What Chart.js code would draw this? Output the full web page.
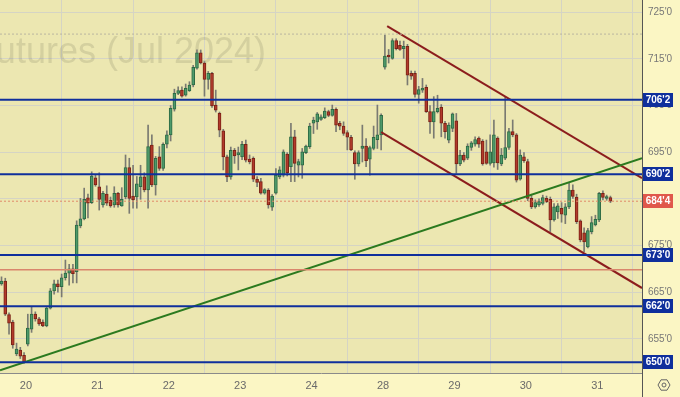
<!DOCTYPE html>
<html>
<head>
<meta charset="utf-8">
<script src="https://cdn.jsdelivr.net/npm/chart.js@4.4.1/dist/chart.umd.min.js"></script>
<style>
    html, body { margin: 0; padding: 0; background: #fbf6c4; }
    #wrap { width: 680px; height: 397px; }
</style>
</head>
<body>
<div id="wrap"><canvas id="chart" width="680" height="397"></canvas></div>
<script>
// hourly candles, Jul 2024 futures, 19 bars per session
const opens = [
    666.8, 667.4, 660.2, 658.6, 651.8, 652.6, 651.5, 653.9, 657.1, 660.3,
    659.3, 658.6, 657.8, 661.6, 665.3, 666.8, 666.2, 668.1, 669.1, 670.0,
    669.4, 679.2, 680.7, 685.2, 684.2, 689.5, 687.6, 683.7, 686.0, 684.7,
    683.7, 686.2, 683.5, 685.4, 691.7, 685.6, 685.4, 687.6, 689.7, 686.9,
    696.5, 688.0, 694.0, 691.5, 696.7, 698.7, 704.2, 707.6, 708.3, 707.2,
    708.2, 709.4, 713.0, 716.3, 714.1, 710.6, 711.9, 705.1, 703.3, 699.6,
    694.0, 689.7, 695.4, 694.4, 694.0, 696.7, 693.5, 693.7, 689.2, 688.7,
    686.2, 686.9, 683.2, 686.2, 689.7, 690.1, 694.6, 691.9, 698.3, 692.2,
    692.2, 694.9, 696.2, 701.2, 701.5, 702.0, 702.4, 703.7, 702.9, 704.2,
    701.2, 700.6, 699.2, 698.2, 694.9, 692.5, 695.8, 696.3, 693.5, 695.8,
    697.7, 698.7, 713.2, 715.8, 715.1, 718.9, 717.9, 717.2, 717.7, 711.9,
    711.9, 707.4, 708.3, 708.9, 703.7, 701.5, 703.7, 704.6, 701.2, 697.6,
    700.1, 701.7, 692.5, 694.4, 693.7, 696.0, 696.7, 698.0, 697.4, 695.1,
    692.6, 692.7, 698.0, 692.5, 693.7, 696.0, 699.4, 698.7, 689.2, 694.0,
    693.0, 685.1, 683.3, 683.7, 684.0, 685.1, 684.9, 680.5, 682.2, 683.0,
    681.5, 683.3, 686.9, 685.4, 680.3, 677.7, 674.7, 677.9, 679.4, 680.5,
    686.2, 685.1, 685.3
];
const highs = [
    668.3, 668.0, 660.6, 659.0, 654.1, 653.2, 652.1, 660.3, 661.9, 660.8,
    659.6, 659.1, 662.0, 665.8, 667.6, 667.6, 668.9, 671.9, 671.0, 671.0,
    680.3, 685.1, 687.3, 686.0, 690.8, 690.2, 690.6, 686.6, 687.8, 685.4,
    687.6, 686.4, 687.4, 694.4, 693.7, 692.2, 689.8, 692.2, 690.6, 700.8,
    698.7, 694.1, 696.2, 697.0, 699.6, 705.0, 708.5, 709.0, 709.0, 709.6,
    710.1, 713.6, 716.9, 716.9, 714.4, 712.3, 712.1, 708.3, 703.6, 699.9,
    694.4, 696.1, 695.8, 696.1, 697.3, 697.6, 694.4, 694.0, 689.8, 689.4,
    687.2, 687.2, 685.9, 691.5, 691.9, 695.5, 694.9, 701.2, 699.7, 693.5,
    695.8, 696.5, 701.2, 702.5, 703.5, 703.0, 704.5, 704.0, 705.1, 704.5,
    701.6, 701.5, 699.6, 698.6, 695.3, 695.3, 700.8, 697.9, 696.3, 700.6,
    705.1, 703.2, 720.1, 717.0, 719.3, 719.3, 718.8, 718.8, 718.1, 712.4,
    712.4, 709.1, 710.8, 709.4, 705.0, 706.9, 707.2, 705.2, 701.6, 701.3,
    703.4, 703.3, 695.4, 694.9, 696.8, 697.3, 698.3, 698.3, 697.7, 697.6,
    698.7, 701.9, 698.3, 695.8, 706.9, 700.1, 701.9, 699.0, 695.5, 694.9,
    693.5, 686.0, 684.8, 685.0, 685.8, 685.6, 685.4, 684.0, 684.0, 684.2,
    684.0, 688.5, 688.0, 686.0, 680.5, 678.8, 678.7, 681.2, 681.5, 686.4,
    686.7, 685.8, 685.6
];
const lows = [
    666.5, 660.0, 656.0, 653.0, 651.4, 650.8, 649.8, 653.5, 656.4, 658.8,
    657.9, 657.6, 657.6, 661.4, 664.6, 665.0, 664.0, 667.6, 666.5, 667.0,
    667.0, 678.8, 680.5, 680.9, 684.0, 687.7, 682.6, 683.2, 683.6, 683.2,
    683.2, 683.2, 683.4, 685.0, 681.9, 683.0, 683.0, 684.9, 686.5, 683.0,
    687.6, 685.8, 691.1, 691.1, 695.9, 697.4, 703.8, 707.3, 706.8, 707.0,
    708.0, 709.0, 712.8, 713.9, 707.0, 708.5, 704.6, 703.6, 698.3, 691.2,
    688.7, 689.2, 692.6, 691.2, 693.4, 692.9, 692.5, 688.7, 687.6, 686.0,
    686.0, 683.0, 682.5, 686.0, 689.3, 689.7, 689.9, 688.7, 688.7, 689.7,
    689.4, 694.7, 695.8, 699.0, 699.9, 701.8, 702.2, 702.6, 702.7, 699.4,
    699.8, 698.6, 695.5, 695.3, 689.2, 692.0, 692.9, 691.9, 690.1, 695.5,
    695.8, 695.5, 712.8, 714.1, 714.9, 716.9, 716.8, 715.1, 709.4, 710.6,
    706.8, 705.5, 707.8, 703.5, 699.0, 698.0, 703.4, 698.3, 698.0, 697.0,
    699.4, 690.5, 692.1, 692.9, 693.4, 695.4, 696.3, 696.0, 692.2, 692.4,
    692.2, 691.8, 691.3, 692.1, 693.4, 695.6, 698.3, 688.6, 689.0, 692.8,
    684.6, 682.9, 683.0, 683.4, 683.7, 684.2, 678.0, 680.2, 680.8, 680.0,
    679.7, 682.9, 685.1, 679.7, 675.8, 673.7, 674.5, 677.5, 679.2, 680.1,
    684.8, 684.7, 684.2
];
const closes = [
    667.4, 660.3, 658.4, 653.7, 652.8, 651.3, 650.0, 657.3, 660.3, 659.3,
    658.2, 657.8, 661.6, 665.3, 666.8, 666.2, 668.1, 669.1, 670.0, 669.0,
    679.4, 680.7, 684.9, 684.1, 689.9, 688.0, 684.9, 686.2, 684.1, 683.5,
    686.2, 683.7, 684.9, 691.7, 685.1, 684.8, 688.2, 689.7, 686.9, 696.2,
    688.0, 693.7, 691.5, 696.7, 698.7, 704.4, 707.6, 708.2, 707.0, 708.7,
    709.4, 713.2, 716.3, 714.1, 710.6, 711.9, 704.9, 704.0, 699.7, 694.0,
    689.7, 695.4, 694.2, 694.9, 696.7, 693.3, 692.9, 689.2, 688.5, 686.2,
    687.0, 683.7, 685.6, 690.1, 691.2, 695.1, 690.6, 698.3, 692.6, 693.0,
    695.1, 696.3, 700.6, 701.9, 703.2, 702.6, 703.8, 702.9, 704.2, 700.8,
    700.6, 699.0, 698.2, 695.5, 692.5, 694.9, 696.3, 693.2, 696.0, 698.2,
    698.7, 702.9, 715.6, 715.4, 718.9, 717.2, 717.0, 717.7, 711.5, 711.3,
    707.4, 708.4, 708.7, 703.7, 701.5, 703.7, 704.4, 701.2, 699.4, 700.8,
    703.2, 692.5, 694.4, 693.3, 696.3, 697.0, 697.7, 696.7, 692.5, 692.6,
    695.1, 698.7, 692.7, 694.4, 696.0, 699.4, 698.7, 689.0, 694.4, 693.2,
    685.1, 683.3, 684.2, 684.4, 685.3, 684.4, 680.5, 683.3, 683.5, 681.7,
    683.3, 686.9, 685.5, 680.1, 676.2, 675.8, 678.2, 679.9, 680.6, 686.2,
    685.3, 685.5, 684.5
];

// first bar of each session and its label
const dayStarts = [7, 26, 45, 64, 83, 102, 121, 140, 159];
const dayLabels = ['20', '21', '22', '23', '24', '28', '29', '30', '31'];

const yTicks = [655, 665, 675, 685, 695, 705, 715, 725];
const levels = [706.25, 690.25, 673, 662, 650];
const lastPrice = 684.5;
const rangeHigh = 720.3;
const midLine = 669.8;

// [x0, y0, x1, y1] in bar index / price
const greenTrend = [-0.4, 648.3, 170.4, 693.7];
const channelTop = [102.6, 722.0, 170.4, 689.45];
const channelBottom = [101.0, 699.3, 170.4, 665.9];

const X_MIN = -0.4, X_MAX = 170.4;
const Y_MIN = 647.7, Y_MAX = 727.6;

const BG_OUT  = '#fbf6c4';
const BG_PLOT = '#ece7b1';
const BLUE    = '#0f2f9c';

function fmt(v) {
    const w = Math.floor(v);
    return w + "'" + Math.round((v - w) * 8);
}

function segment(s) {
    return [{ x: s[0], y: s[1] }, { x: s[2], y: s[3] }];
}

function flat(v) {
    return [{ x: X_MIN, y: v }, { x: X_MAX, y: v }];
}

const idx = opens.map((_, i) => i);
const isUp = (i) => closes[i] >= opens[i];

const lineStyle = (data, color, width, dash) => ({
    type: 'line',
    data: data,
    borderColor: color,
    borderWidth: width,
    borderDash: dash || [],
    pointRadius: 0,
    tension: 0,
    order: 0,
});

const datasets = [
    {
        data: idx.map(i => ({ x: i, y: [opens[i], closes[i]] })),
        backgroundColor: (c) => isUp(c.dataIndex) ? '#4e9a6a' : '#b23a2b',
        borderColor:     (c) => isUp(c.dataIndex) ? '#2c6a44' : '#7a2216',
        borderWidth: 1,
        borderSkipped: false,
        barThickness: 3,
        grouped: false,
        order: 1,
    },
    {
        data: idx.map(i => ({ x: i, y: [lows[i], highs[i]] })),
        backgroundColor: '#7a7a72',
        borderWidth: 0,
        barThickness: 1,
        grouped: false,
        order: 2,
    },
    lineStyle(flat(rangeHigh), '#b9b6a0', 1, [2, 2]),
    lineStyle(flat(lastPrice), '#e08a6a', 1, [2, 2]),
    lineStyle(flat(midLine), '#d9866c', 1.5),
    ...levels.map(v => lineStyle(flat(v), BLUE, 2)),
    lineStyle(segment(greenTrend), '#2b7a1f', 2),
    lineStyle(segment(channelTop), '#8c1d1d', 2),
    lineStyle(segment(channelBottom), '#8c1d1d', 2),
];

const decor = {
    id: 'decor',
    beforeDraw(chart) {
        const { ctx, chartArea: a } = chart;
        ctx.save();
        ctx.fillStyle = BG_OUT;
        ctx.fillRect(0, 0, chart.width, chart.height);
        ctx.fillStyle = BG_PLOT;
        ctx.fillRect(a.left, a.top, a.right - a.left, a.bottom - a.top);
        ctx.restore();
    },
    beforeDatasetsDraw(chart) {
        const { ctx, chartArea: a } = chart;
        ctx.save();
        ctx.beginPath();
        ctx.rect(a.left, a.top, a.right - a.left, a.bottom - a.top);
        ctx.clip();
        ctx.font = '36px "Liberation Sans"';
        ctx.fillStyle = 'rgba(90, 90, 70, 0.16)';
        ctx.textAlign = 'right';
        ctx.textBaseline = 'alphabetic';
        ctx.fillText('Futures (Jul 2024)', 266, 63);
        ctx.restore();
    },
    afterDraw(chart) {
        const { ctx, chartArea: a } = chart;
        const ys = chart.scales.y;
        ctx.save();

        // axis separator runs down through the date strip
        ctx.strokeStyle = '#555';
        ctx.lineWidth = 1;
        ctx.beginPath();
        ctx.moveTo(a.right + 0.5, a.top);
        ctx.lineTo(a.right + 0.5, chart.height);
        ctx.stroke();

        const boxes = levels.map(v => [v, BLUE]).concat([[lastPrice, '#e0584b']]);
        ctx.font = 'bold 10px "Liberation Sans"';
        ctx.textAlign = 'center';
        ctx.textBaseline = 'middle';
        boxes.forEach(([v, color]) => {
            const y = Math.round(ys.getPixelForValue(v));
            ctx.fillStyle = color;
            ctx.fillRect(a.right + 1, y - 7, 30, 14);
            ctx.fillStyle = '#fff';
            ctx.fillText(fmt(v), a.right + 16, y + 0.5);
        });

        // settings glyph
        const cx = 664, cy = 385, r = 6;
        ctx.strokeStyle = '#666';
        ctx.lineWidth = 1;
        ctx.beginPath();
        for (let k = 0; k < 6; k++) {
            const t = Math.PI / 3 * k;
            const px = cx + r * Math.cos(t), py = cy + r * Math.sin(t);
            k === 0 ? ctx.moveTo(px, py) : ctx.lineTo(px, py);
        }
        ctx.closePath();
        ctx.stroke();
        ctx.beginPath();
        ctx.arc(cx, cy, 2, 0, Math.PI * 2);
        ctx.stroke();
        ctx.restore();
    }
};

new Chart(document.getElementById('chart').getContext('2d'), {
    type: 'bar',
    data: { datasets: datasets },
    options: {
        responsive: false,
        animation: false,
        events: [],
        layout: { padding: 0 },
        plugins: { legend: { display: false }, tooltip: { enabled: false } },
        scales: {
            x: {
                type: 'linear',
                min: X_MIN,
                max: X_MAX,
                offset: false,
                afterBuildTicks: (s) => { s.ticks = dayStarts.map(v => ({ value: v - 0.5 })); },
                afterFit: (s) => { s.height = 24; s.paddingLeft = 0; s.paddingRight = 0; },
                ticks: {
                    autoSkip: false,
                    maxRotation: 0,
                    padding: 6,
                    color: '#6a6a6a',
                    font: { family: 'Liberation Sans', size: 11 },
                    callback: (v, i) => dayLabels[i],
                },
                grid: { color: '#d5d4c4', drawTicks: false },
                border: { color: '#8a8a8a' },
            },
            y: {
                type: 'linear',
                position: 'right',
                min: Y_MIN,
                max: Y_MAX,
                afterBuildTicks: (s) => { s.ticks = yTicks.map(v => ({ value: v })); },
                afterFit: (s) => { s.width = 38; s.paddingTop = 0; s.paddingBottom = 0; },
                ticks: {
                    padding: 6,
                    color: '#777',
                    font: { family: 'Liberation Sans', size: 10 },
                    callback: (v) => fmt(v),
                },
                grid: { color: '#d5d4c4', drawTicks: false },
                border: { color: '#555' },
            },
        },
    },
    plugins: [decor],
});
</script>
</body>
</html>
